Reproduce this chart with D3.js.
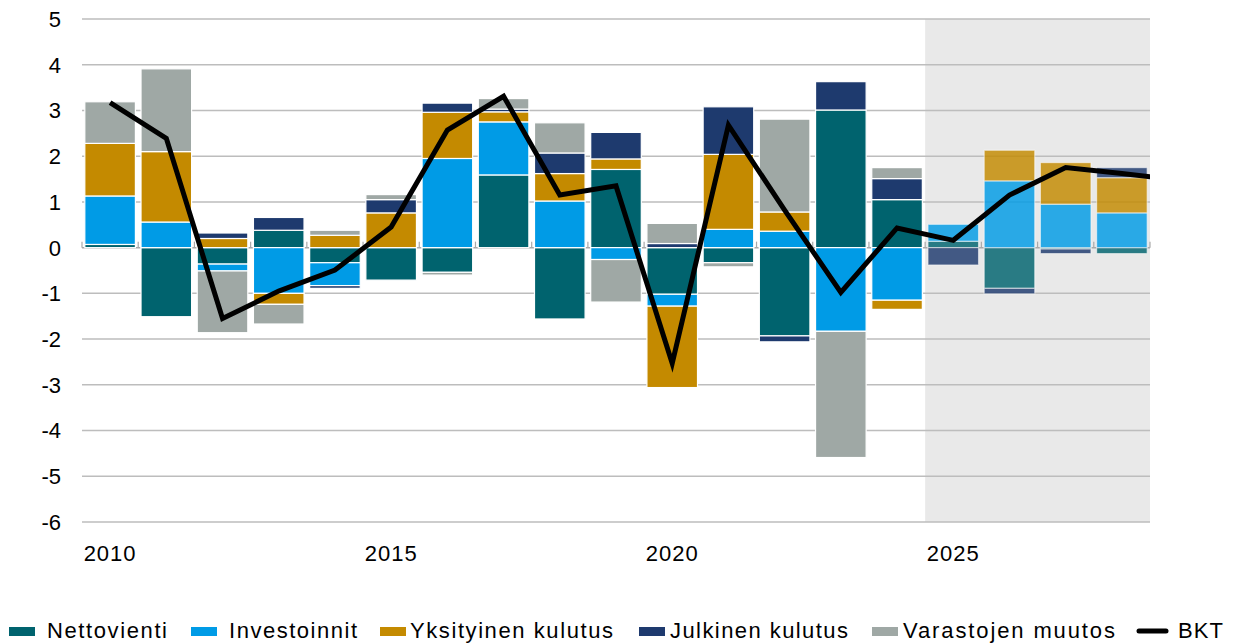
<!DOCTYPE html>
<html>
<head>
<meta charset="utf-8">
<script src="https://cdn.jsdelivr.net/npm/d3@7"></script>
<style>
  body { margin: 0; background: #fff; }
  svg text { font-family: "Liberation Sans", Arial, sans-serif; fill: #000; }
</style>
</head>
<body>
<svg id="chart" width="1236" height="644"></svg>
<script>
// years on the x axis (2025 onwards is the forecast)
var years = [2010, 2011, 2012, 2013, 2014, 2015, 2016, 2017, 2018, 2019,
             2020, 2021, 2022, 2023, 2024, 2025, 2026, 2027, 2028];
var forecastStart = 2025;

// contributions, %-points
var nettovienti  = [0.07, -1.51, -0.36, 0.38, -0.33, -0.71, -0.54, 1.59, -1.56, 1.71,
                    -1.02, -0.33, -1.93, 3.01, 1.05, 0.14, -0.89, -0.03, -0.13];
var investoinnit = [1.06, 0.56, -0.15, -1.00, -0.50, 0.00, 1.95, 1.16, 1.02, -0.26,
                    -0.26, 0.40, 0.36, -1.83, -1.15, 0.37, 1.46, 0.95, 0.76];
var yksityinen   = [1.15, 1.54, 0.20, -0.24, 0.27, 0.76, 1.01, 0.22, 0.60, 0.23,
                    -1.78, 1.64, 0.42, 0.00, -0.20, 0.00, 0.67, 0.91, 0.77];
var julkinen     = [0.00, 0.00, 0.12, 0.28, -0.06, 0.29, 0.20, 0.06, 0.45, 0.58,
                    0.09, 1.04, -0.13, 0.62, 0.46, -0.38, -0.12, -0.10, 0.22];
var varastot     = [0.91, 1.81, -1.35, -0.43, 0.11, 0.11, -0.06, 0.23, 0.66, -0.93,
                    0.44, -0.09, 2.03, -2.76, 0.24, 0.00, 0.00, 0.00, 0.00];

// GDP growth line; last point (2029) runs past the plot edge and is clipped
var bktYears = [2010, 2011, 2012, 2013, 2014, 2015, 2016, 2017, 2018, 2019,
                2020, 2021, 2022, 2023, 2024, 2025, 2026, 2027, 2028, 2029];
var bkt = [3.17, 2.39, -1.55, -0.95, -0.49, 0.45, 2.57, 3.31, 1.15, 1.35,
           -2.53, 2.68, 0.82, -0.98, 0.43, 0.16, 1.15, 1.75, 1.62, 1.48];

var yTicks = [5, 4, 3, 2, 1, 0, -1, -2, -3, -4, -5, -6];
var xLabels = [2010, 2015, 2020, 2025];

var seriesNames = ["Nettovienti", "Investoinnit", "Yksityinen kulutus", "Julkinen kulutus", "Varastojen muutos"];
var seriesColors = ["#00636e", "#009be6", "#c48a00", "#1e3a6e", "#9fa8a5"];

// build table for d3.stack
var keys = ["netto", "invest", "yksit", "julk", "varasto"];
var table = years.map(function(y, i) {
  return { year: y, netto: nettovienti[i], invest: investoinnit[i], yksit: yksityinen[i],
           julk: julkinen[i], varasto: varastot[i] };
});

var svg = d3.select("#chart");
var plotLeft = 82, plotRight = 1150, plotTop = 19, plotBottom = 522;

var x = d3.scaleBand().domain(years).range([plotLeft, plotRight]).paddingInner(0.1).paddingOuter(0.05);
var step = x.step();
var xc = d3.scaleLinear()
  .domain([years[0], years[years.length - 1]])
  .range([plotLeft + step / 2, plotRight - step / 2]);
var y = d3.scaleLinear().domain([-6, 5]).range([plotBottom, plotTop]);

// forecast shading
var shadeX = plotLeft + step * years.indexOf(forecastStart);
svg.append("rect")
  .attr("x", shadeX)
  .attr("y", y(5))
  .attr("width", plotRight - shadeX)
  .attr("height", y(-6) - y(5))
  .attr("fill", "#e9e9e9");

// gridlines
svg.append("g").selectAll("line")
  .data(yTicks.filter(function(d) { return d != 0; }))
  .enter().append("line")
  .attr("x1", plotLeft).attr("x2", plotRight)
  .attr("y1", function(d) { return y(d); })
  .attr("y2", function(d) { return y(d); })
  .attr("stroke", "#bdbdbd")
  .attr("stroke-width", 1.5);

// zero axis with inside ticks at category boundaries
svg.append("line")
  .attr("x1", plotLeft).attr("x2", plotRight)
  .attr("y1", y(0)).attr("y2", y(0))
  .attr("stroke", "#a9a9a9").attr("stroke-width", 1.5);
svg.append("g").selectAll("line")
  .data(d3.range(years.length + 1))
  .enter().append("line")
  .attr("x1", function(i) { return plotLeft + i * step; })
  .attr("x2", function(i) { return plotLeft + i * step; })
  .attr("y1", y(0) - 6).attr("y2", y(0))
  .attr("stroke", "#a9a9a9").attr("stroke-width", 1.2);

// stacked bars
var stacked = d3.stack().keys(keys).offset(d3.stackOffsetDiverging)(table);

svg.append("g").selectAll("g")
  .data(stacked)
  .enter().append("g")
  .attr("fill", function(d, i) { return seriesColors[i]; })
  .selectAll("rect")
  .data(function(d) { return d.filter(function(s) { return Math.abs(s[1] - s[0]) > 0; }); })
  .enter().append("rect")
  .attr("x", function(d) { return x(d.data.year); })
  .attr("width", x.bandwidth())
  .attr("y", function(d) { return y(d[1]); })
  .attr("height", function(d) { return y(d[0]) - y(d[1]); })
  .attr("opacity", function(d) { return d.data.year >= forecastStart ? 0.82 : 1; })
  .attr("stroke", "#ffffff")
  .attr("stroke-opacity", function(d) { return d.data.year >= forecastStart ? 0.6 : 1; })
  .attr("stroke-width", 1.2);

// BKT line, clipped to the plot
svg.append("clipPath").attr("id", "plotclip")
  .append("rect").attr("x", plotLeft).attr("y", 0).attr("width", plotRight - plotLeft).attr("height", 644);

var line = d3.line()
  .x(function(d, i) { return xc(bktYears[i]); })
  .y(function(d) { return y(d); });

svg.append("path")
  .datum(bkt)
  .attr("clip-path", "url(#plotclip)")
  .attr("d", line)
  .attr("fill", "none")
  .attr("stroke", "#000")
  .attr("stroke-width", 5)
  .attr("stroke-linejoin", "miter");

// y labels
svg.append("g").selectAll("text")
  .data(yTicks)
  .enter().append("text")
  .attr("x", 61)
  .attr("y", function(d) { return y(d); })
  .attr("dy", "0.36em")
  .attr("text-anchor", "end")
  .style("font-size", "22px")
  .text(function(d) { return d; });

// x labels
svg.append("g").selectAll("text")
  .data(xLabels)
  .enter().append("text")
  .attr("x", function(d) { return xc(d); })
  .attr("y", 561)
  .attr("text-anchor", "middle")
  .style("font-size", "22px")
  .style("letter-spacing", "1px")
  .text(function(d) { return d; });

// legend
var legendSwatchX = [9, 191, 380, 639, 872];
var legendTextX = [47, 229, 410, 670, 903];
var legendTextW = [120, 128, 203, 178, 212];

var legend = svg.append("g");
seriesNames.forEach(function(name, i) {
  legend.append("rect")
    .attr("x", legendSwatchX[i]).attr("y", 627)
    .attr("width", 26).attr("height", 9)
    .attr("fill", seriesColors[i]);
  legend.append("text")
    .attr("x", legendTextX[i]).attr("y", 638)
    .attr("textLength", legendTextW[i])
    .attr("lengthAdjust", "spacing")
    .style("font-size", "22px")
    .text(name);
});
legend.append("line")
  .attr("x1", 1139).attr("x2", 1166)
  .attr("y1", 631).attr("y2", 631)
  .attr("stroke", "#000").attr("stroke-width", 5)
  .attr("stroke-linecap", "round");
legend.append("text")
  .attr("x", 1178).attr("y", 638)
  .attr("textLength", 45)
  .attr("lengthAdjust", "spacing")
  .style("font-size", "22px")
  .text("BKT");
</script>
</body>
</html>
